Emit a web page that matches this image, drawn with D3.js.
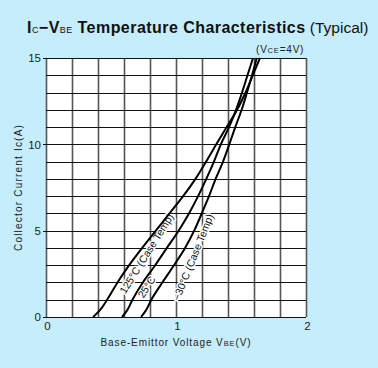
<!DOCTYPE html>
<html>
<head>
<meta charset="utf-8">
<script src="https://cdn.jsdelivr.net/npm/d3@7"></script>
<style>
  body{margin:0;background:#c5edfb;}
  text{font-family:"Liberation Sans",Arial,sans-serif;}
</style>
</head>
<body>
<div id="chart"></div>
<script>
const w = 378;
const h = 368;

// Ic in amperes, Vbe in volts
var currents = [0,0.4,1,2,3,4,5,6,7,8,9,10,11,12,13,14,15];
var vbe125 = [0.362,0.415,0.47,0.55,0.64,0.74,0.845,0.95,1.055,1.15,1.232,1.31,1.39,1.47,1.535,1.59,1.646];
var vbe25  = [0.585,0.625,0.665,0.745,0.84,0.93,1.02,1.1,1.17,1.233,1.292,1.345,1.408,1.462,1.508,1.55,1.592];
var vbeM30 = [0.731,0.77,0.81,0.895,0.985,1.07,1.14,1.198,1.254,1.305,1.362,1.41,1.456,1.505,1.546,1.585,1.621];

var xTicks = [0,1,2];
var yTicks = [0,5,10,15];
var curveLabels = ["125°C (Case Temp)","25°C","−30°C (Case Temp)"];

var svg = d3.select("#chart")
            .append("svg")
            .attr("width",w)
            .attr("height",h);

svg.append("rect").attr("width",w).attr("height",h).attr("fill","#c5edfb");

var x = d3.scaleLinear().domain([0,2]).range([46,306]);
var y = d3.scaleLinear().domain([0,15]).range([317,58]);

// plot background
svg.append("rect")
   .attr("x",x(0)).attr("y",y(15))
   .attr("width",x(2)-x(0)).attr("height",y(0)-y(15))
   .attr("fill","#fff");

// grid
svg.append("g")
   .selectAll("line")
   .data(d3.range(0,2.0001,0.2))
   .enter()
   .append("line")
   .attr("x1",(d)=>Math.round(x(d))+0.5).attr("x2",(d)=>Math.round(x(d))+0.5)
   .attr("y1",y(0)).attr("y2",y(15))
   .attr("stroke","#555")
   .attr("stroke-width",1.6);

svg.append("g")
   .selectAll("line")
   .data(d3.range(0,16,1))
   .enter()
   .append("line")
   .attr("x1",(d)=> d%5===0 ? x(0)-3 : x(0))
   .attr("x2",x(2))
   .attr("y1",(d)=>Math.round(y(d))+0.5).attr("y2",(d)=>Math.round(y(d))+0.5)
   .attr("stroke","#111")
   .attr("stroke-width",1.2);

// axis labels
var yAxis = d3.axisLeft(y).tickValues(yTicks).tickSize(0).tickPadding(4).tickFormat(d3.format("d"));
svg.append("g")
   .attr("transform","translate("+(x(0)-1)+",0)")
   .call(yAxis)
   .call(g=>g.select(".domain").remove())
   .selectAll("text")
   .attr("font-size",11.5)
   .attr("fill","#222")
   .attr("font-family","Liberation Sans, Arial, sans-serif");

var xAxis = d3.axisBottom(x).tickValues(xTicks).tickSize(0).tickPadding(5).tickFormat(d3.format("d"));
svg.append("g")
   .attr("transform","translate(1,"+y(0)+")")
   .call(xAxis)
   .call(g=>g.select(".domain").remove())
   .selectAll("text")
   .attr("font-size",11.5)
   .attr("fill","#222")
   .attr("font-family","Liberation Sans, Arial, sans-serif");

// curve labels sit between the curves; white halo hides grid under them
var labelPos = [
  {v:0.61, i:1.3, rot:-58},
  {v:0.75, i:1.05, rot:-58},
  {v:1.025, i:0.9, rot:-68}
];
svg.append("g")
   .selectAll("text")
   .data(curveLabels)
   .enter()
   .append("text")
   .attr("transform",(d,k)=>"translate("+x(labelPos[k].v)+","+y(labelPos[k].i)+") rotate("+labelPos[k].rot+")")
   .attr("font-size",10.5)
   .attr("fill","#111")
   .attr("stroke","#fff")
   .attr("stroke-width",3)
   .attr("paint-order","stroke")
   .text((d)=>d);

// curves
var line = d3.line()
             .x((d)=>x(d[0]))
             .y((d)=>y(d[1]))
             .curve(d3.curveMonotoneY);

var series = [vbe125,vbe25,vbeM30].map((vals)=>vals.map((v,i)=>[v,currents[i]]));

svg.append("g")
   .selectAll("path")
   .data(series)
   .enter()
   .append("path")
   .attr("d",line)
   .attr("fill","none")
   .attr("stroke","#000")
   .attr("stroke-width",2);

// title
var title = svg.append("text")
   .attr("x",27)
   .attr("y",33)
   .attr("fill","#111")
   .attr("font-size",16)
   .attr("letter-spacing",0.45)
   .attr("font-weight","bold");
title.append("tspan").text("I");
title.append("tspan").attr("font-size",9).attr("font-weight","normal").text("C");
title.append("tspan").text("−V");
title.append("tspan").attr("font-size",9).attr("font-weight","normal").text("BE");
title.append("tspan").text(" Temperature  Characteristics");
title.append("tspan").attr("font-weight","normal").attr("font-size",15.5).attr("letter-spacing",0).text(" (Typical)");

// condition
var cond = svg.append("text")
   .attr("x",256)
   .attr("y",53)
   .attr("fill","#222")
   .attr("font-size",10)
   .attr("letter-spacing",0.8);
cond.append("tspan").text("(V");
cond.append("tspan").attr("font-size",7.5).text("CE");
cond.append("tspan").text("=4V)");

// axis titles
var xTitle = svg.append("text")
   .attr("x",(x(0)+x(2))/2)
   .attr("y",346)
   .attr("text-anchor","middle")
   .attr("fill","#222")
   .attr("font-size",10)
   .attr("letter-spacing",0.9);
xTitle.append("tspan").text("Base-Emittor Voltage V");
xTitle.append("tspan").attr("font-size",7.5).text("BE");
xTitle.append("tspan").text("(V)");

svg.append("text")
   .attr("transform","translate(22,"+((y(0)+y(15))/2)+") rotate(-90)")
   .attr("text-anchor","middle")
   .attr("fill","#222")
   .attr("font-size",10)
   .attr("letter-spacing",1.2)
   .text("Collector Current Ic(A)");
</script>
</body>
</html>
